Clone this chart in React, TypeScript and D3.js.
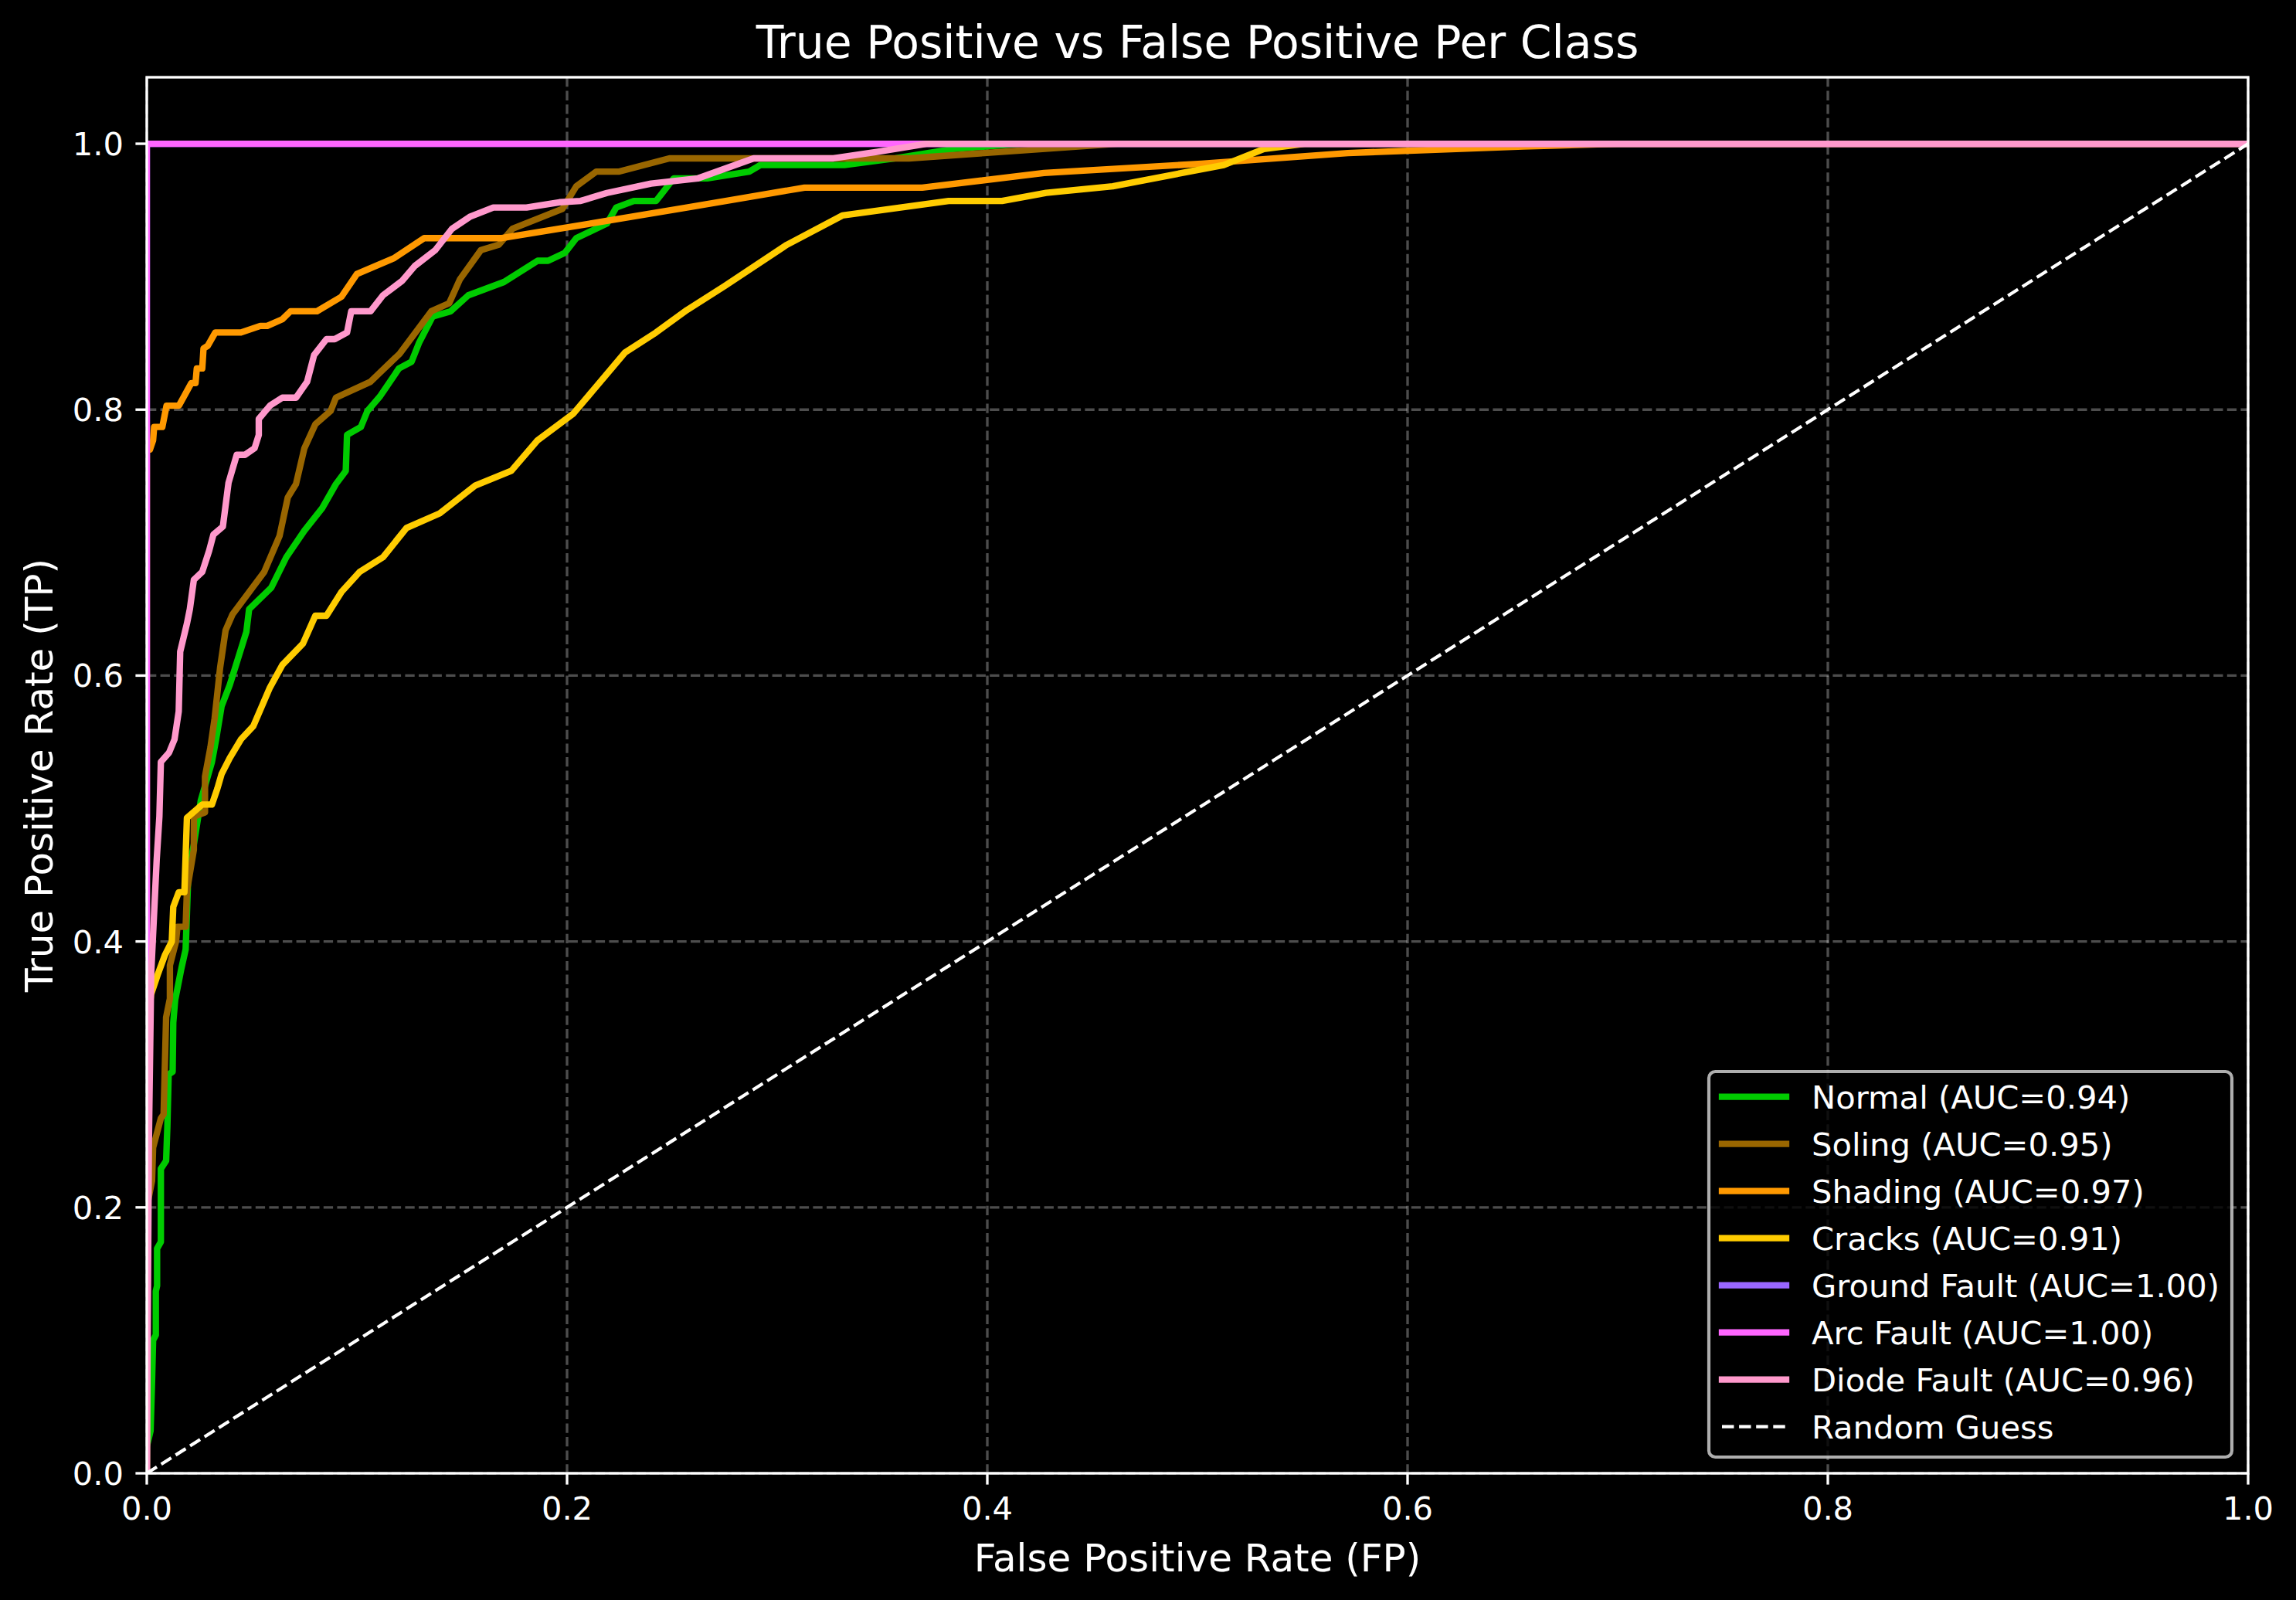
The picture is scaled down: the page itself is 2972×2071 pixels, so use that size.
import * as d3 from 'd3';
import React from 'react';

// ROC points [fpr, tpr]
const normalRoc: [number, number][] = [
  [0, 0], [0, 0.02], [0.0018, 0.032], [0.0025, 0.069], [0.003, 0.1], [0.0043, 0.104], [0.0043, 0.137],
  [0.0049, 0.141], [0.0049, 0.169], [0.0067, 0.174], [0.0067, 0.229], [0.0092, 0.235], [0.0098, 0.261],
  [0.0104, 0.3], [0.0123, 0.302], [0.0126, 0.339], [0.0135, 0.356], [0.0165, 0.38], [0.0185, 0.394],
  [0.0198, 0.452], [0.0224, 0.473], [0.0257, 0.506], [0.031, 0.535], [0.033, 0.552], [0.0356, 0.577],
  [0.0395, 0.593], [0.0474, 0.633], [0.0487, 0.65], [0.0592, 0.666], [0.0664, 0.689], [0.075, 0.709],
  [0.0835, 0.726], [0.09, 0.744], [0.0947, 0.754], [0.0953, 0.781], [0.1019, 0.787], [0.105, 0.799],
  [0.111, 0.81], [0.12, 0.831], [0.126, 0.836], [0.1295, 0.85], [0.136, 0.87], [0.1446, 0.874],
  [0.153, 0.886], [0.17, 0.896], [0.186, 0.912], [0.191, 0.912], [0.199, 0.918], [0.2044, 0.929],
  [0.219, 0.94], [0.2234, 0.952], [0.2318, 0.957], [0.2424, 0.957], [0.2508, 0.974], [0.2667, 0.974],
  [0.2867, 0.979], [0.292, 0.984], [0.332, 0.984], [0.3563, 0.989], [0.3838, 0.996], [0.4154, 1], [1, 1],
];

const solingRoc: [number, number][] = [
  [0, 0], [0, 0.2], [0.0025, 0.22], [0.003, 0.245], [0.0067, 0.267], [0.008, 0.27], [0.0092, 0.343],
  [0.011, 0.357], [0.011, 0.382], [0.0139, 0.4], [0.0146, 0.411], [0.0185, 0.411], [0.0191, 0.438],
  [0.0224, 0.469], [0.0224, 0.494], [0.0277, 0.497], [0.0277, 0.524], [0.0303, 0.546], [0.0323, 0.568],
  [0.0349, 0.606], [0.0375, 0.634], [0.0408, 0.646], [0.0559, 0.678], [0.0632, 0.705], [0.0671, 0.734],
  [0.071, 0.744], [0.075, 0.771], [0.0802, 0.789], [0.0875, 0.799], [0.09, 0.809], [0.1065, 0.821],
  [0.1124, 0.83], [0.1203, 0.842], [0.1354, 0.874], [0.1439, 0.88], [0.149, 0.898], [0.159, 0.92],
  [0.1675, 0.924], [0.174, 0.936], [0.1978, 0.951], [0.2044, 0.968], [0.2139, 0.979], [0.2245, 0.979],
  [0.2487, 0.989], [0.3627, 0.989], [0.3985, 0.993], [0.4618, 1], [1, 1],
];

const shadingRoc: [number, number][] = [
  [0, 0], [0, 0.77], [0.0015, 0.77], [0.003, 0.777], [0.0035, 0.787], [0.0074, 0.787], [0.0094, 0.803],
  [0.0153, 0.803], [0.0212, 0.82], [0.0232, 0.82], [0.0238, 0.831], [0.0264, 0.831], [0.027, 0.846],
  [0.029, 0.848], [0.0326, 0.858], [0.0448, 0.858], [0.054, 0.863], [0.0573, 0.863], [0.0645, 0.868],
  [0.0684, 0.874], [0.081, 0.874], [0.0927, 0.885], [0.1, 0.902], [0.1177, 0.914], [0.132, 0.929],
  [0.169, 0.929], [0.2, 0.937], [0.257, 0.952], [0.313, 0.967], [0.369, 0.967], [0.427, 0.978],
  [0.502, 0.985], [0.5716, 0.993], [0.655, 0.998], [0.7, 1], [1, 1],
];

const cracksRoc: [number, number][] = [
  [0, 0], [0, 0.33], [0.002, 0.36], [0.0054, 0.376], [0.0087, 0.39], [0.0119, 0.4], [0.0126, 0.426],
  [0.0152, 0.437], [0.0179, 0.437], [0.0191, 0.493], [0.0264, 0.503], [0.031, 0.503], [0.0336, 0.515],
  [0.0356, 0.526], [0.0395, 0.538], [0.0448, 0.552], [0.0507, 0.562], [0.0586, 0.591], [0.0645, 0.608],
  [0.0743, 0.624], [0.0802, 0.645], [0.0855, 0.645], [0.0927, 0.663], [0.1013, 0.678], [0.1124, 0.689],
  [0.1236, 0.711], [0.1394, 0.722], [0.1564, 0.743], [0.1735, 0.754], [0.186, 0.777], [0.203, 0.797],
  [0.2276, 0.843], [0.2423, 0.858], [0.2571, 0.875], [0.275, 0.893], [0.3046, 0.924], [0.331, 0.946],
  [0.3816, 0.957], [0.407, 0.957], [0.428, 0.963], [0.4597, 0.968], [0.5125, 0.984], [0.5316, 0.996],
  [0.551, 1], [1, 1],
];

const groundFaultRoc: [number, number][] = [[0, 0], [0, 1], [1, 1]];
const arcFaultRoc: [number, number][] = [[0, 0], [0, 1], [1, 1]];

const diodeFaultRoc: [number, number][] = [
  [0, 0], [0.001, 0.25], [0.0021, 0.376], [0.0047, 0.461], [0.006, 0.494], [0.0067, 0.535],
  [0.0106, 0.542], [0.0132, 0.552], [0.0152, 0.573], [0.0159, 0.618], [0.0191, 0.639], [0.0205, 0.65],
  [0.0224, 0.672], [0.0264, 0.678], [0.0297, 0.694], [0.0317, 0.706], [0.0362, 0.712], [0.0389, 0.745],
  [0.0428, 0.766], [0.0467, 0.766], [0.0513, 0.771], [0.0533, 0.781], [0.0533, 0.793], [0.0586, 0.803],
  [0.0645, 0.809], [0.071, 0.809], [0.0763, 0.821], [0.0796, 0.841], [0.0855, 0.853], [0.0894, 0.853],
  [0.0953, 0.858], [0.0973, 0.874], [0.1065, 0.874], [0.1124, 0.886], [0.1216, 0.897], [0.1275, 0.908],
  [0.1373, 0.92], [0.1452, 0.936], [0.1537, 0.945], [0.1649, 0.952], [0.1807, 0.952], [0.1964, 0.956],
  [0.2065, 0.957], [0.219, 0.963], [0.24, 0.97], [0.2624, 0.974], [0.2888, 0.989], [0.3268, 0.989],
  [0.348, 0.994], [0.371, 1], [1, 1],
];

const classNames = ['Normal', 'Soling', 'Shading', 'Cracks', 'Ground Fault', 'Arc Fault', 'Diode Fault'];
const aucValues = [0.94, 0.95, 0.97, 0.91, 1.0, 1.0, 0.96];
const classColors = ['#00cc00', '#996600', '#ff9900', '#ffcc00', '#9966ff', '#ff66ff', '#ff99cc'];
const rocCurves = [normalRoc, solingRoc, shadingRoc, cracksRoc, groundFaultRoc, arcFaultRoc, diodeFaultRoc];
const diagonal: [number, number][] = [[0, 0], [1, 1]];

const W = 2972, H = 2071;
const margin = { left: 190, right: 2910, top: 100, bottom: 1907 };
const font = 'DejaVu Sans, sans-serif';

const App = () => {
  const x = d3.scaleLinear().domain([0, 1]).range([margin.left, margin.right]);
  const y = d3.scaleLinear().domain([0, 1.05]).range([margin.bottom, margin.top]);
  const line = d3.line<[number, number]>().x(d => x(d[0])).y(d => y(d[1]));
  const fmt = d3.format('.1f');
  const xTicks = x.ticks(5);
  const yTicks = y.ticks(5).filter(t => t <= 1);

  const legendItems = [
    ...classNames.map((n, i) => ({ label: `${n} (AUC=${aucValues[i].toFixed(2)})`, color: classColors[i], dashed: false })),
    { label: 'Random Guess', color: '#ffffff', dashed: true },
  ];
  const lg = { x0: 2212, y0: 1387, x1: 2889, y1: 1886, row0: 1419.6, step: 61 };

  return (
    <svg width={W} height={H} style={{ position: 'absolute', left: 0, top: 0, background: '#000' }}>
      <rect x={0} y={0} width={W} height={H} fill="#000" />
      <defs>
        <clipPath id="plotClip">
          <rect x={margin.left} y={margin.top} width={margin.right - margin.left} height={margin.bottom - margin.top} />
        </clipPath>
      </defs>

      {/* grid */}
      <g stroke="#ffffff" strokeOpacity={0.3} strokeWidth={3.33} strokeDasharray="12.3,5.3">
        {xTicks.map(t => <line key={'gx' + t} x1={x(t)} x2={x(t)} y1={margin.top} y2={margin.bottom} />)}
        {yTicks.map(t => <line key={'gy' + t} x1={margin.left} x2={margin.right} y1={y(t)} y2={y(t)} />)}
      </g>

      <g clipPath="url(#plotClip)" fill="none">
        {rocCurves.map((c, i) => (
          <path key={classNames[i]} d={line(c) || ''} stroke={classColors[i]} strokeWidth={8.33}
            strokeLinejoin="round" strokeLinecap="square" />
        ))}
        <path d={line(diagonal) || ''} stroke="#ffffff" strokeWidth={4.17} strokeDasharray="15.4,6.7" />
      </g>

      {/* spines */}
      <rect x={margin.left} y={margin.top} width={margin.right - margin.left} height={margin.bottom - margin.top}
        fill="none" stroke="#ffffff" strokeWidth={3.33} />

      {/* ticks */}
      <g stroke="#ffffff" strokeWidth={3.33}>
        {xTicks.map(t => <line key={'tx' + t} x1={x(t)} x2={x(t)} y1={margin.bottom} y2={margin.bottom + 14.6} />)}
        {yTicks.map(t => <line key={'ty' + t} x1={margin.left - 14.6} x2={margin.left} y1={y(t)} y2={y(t)} />)}
      </g>
      <g fill="#ffffff" fontFamily={font} fontSize={41.67}>
        {xTicks.map(t => (
          <text key={'lx' + t} x={x(t)} y={1967} textAnchor="middle">{fmt(t)}</text>
        ))}
        {yTicks.map(t => (
          <text key={'ly' + t} x={margin.left - 30} y={y(t) + 15} textAnchor="end">{fmt(t)}</text>
        ))}
      </g>

      {/* labels and title */}
      <text x={(margin.left + margin.right) / 2} y={2034} textAnchor="middle" fill="#ffffff" fontFamily={font} fontSize={50}>
        False Positive Rate (FP)
      </text>
      <text transform={`translate(68,${(margin.top + margin.bottom) / 2}) rotate(-90)`} textAnchor="middle"
        fill="#ffffff" fontFamily={font} fontSize={50}>
        True Positive Rate (TP)
      </text>
      <text x={(margin.left + margin.right) / 2} y={75} textAnchor="middle" fill="#ffffff" fontFamily={font} fontSize={58.33}>
        True Positive vs False Positive Per Class
      </text>

      {/* legend */}
      <rect x={lg.x0} y={lg.y0} width={lg.x1 - lg.x0} height={lg.y1 - lg.y0} rx={8.3} ry={8.3}
        fill="#000" fillOpacity={0.8} stroke="#cccccc" strokeOpacity={0.85} strokeWidth={4.17} />
      {legendItems.map((it, i) => {
        const cy = lg.row0 + i * lg.step;
        return (
          <g key={it.label}>
            {it.dashed ? (
              <line x1={2229} x2={2312} y1={cy} y2={cy} stroke={it.color} strokeWidth={4.17} strokeDasharray="15.4,6.7" />
            ) : (
              <line x1={2229} x2={2312} y1={cy} y2={cy} stroke={it.color} strokeWidth={8.33} strokeLinecap="square" />
            )}
            <text x={2345} y={cy + 15} fill="#ffffff" fontFamily={font} fontSize={41.67}>{it.label}</text>
          </g>
        );
      })}
    </svg>
  );
};

export default App;
